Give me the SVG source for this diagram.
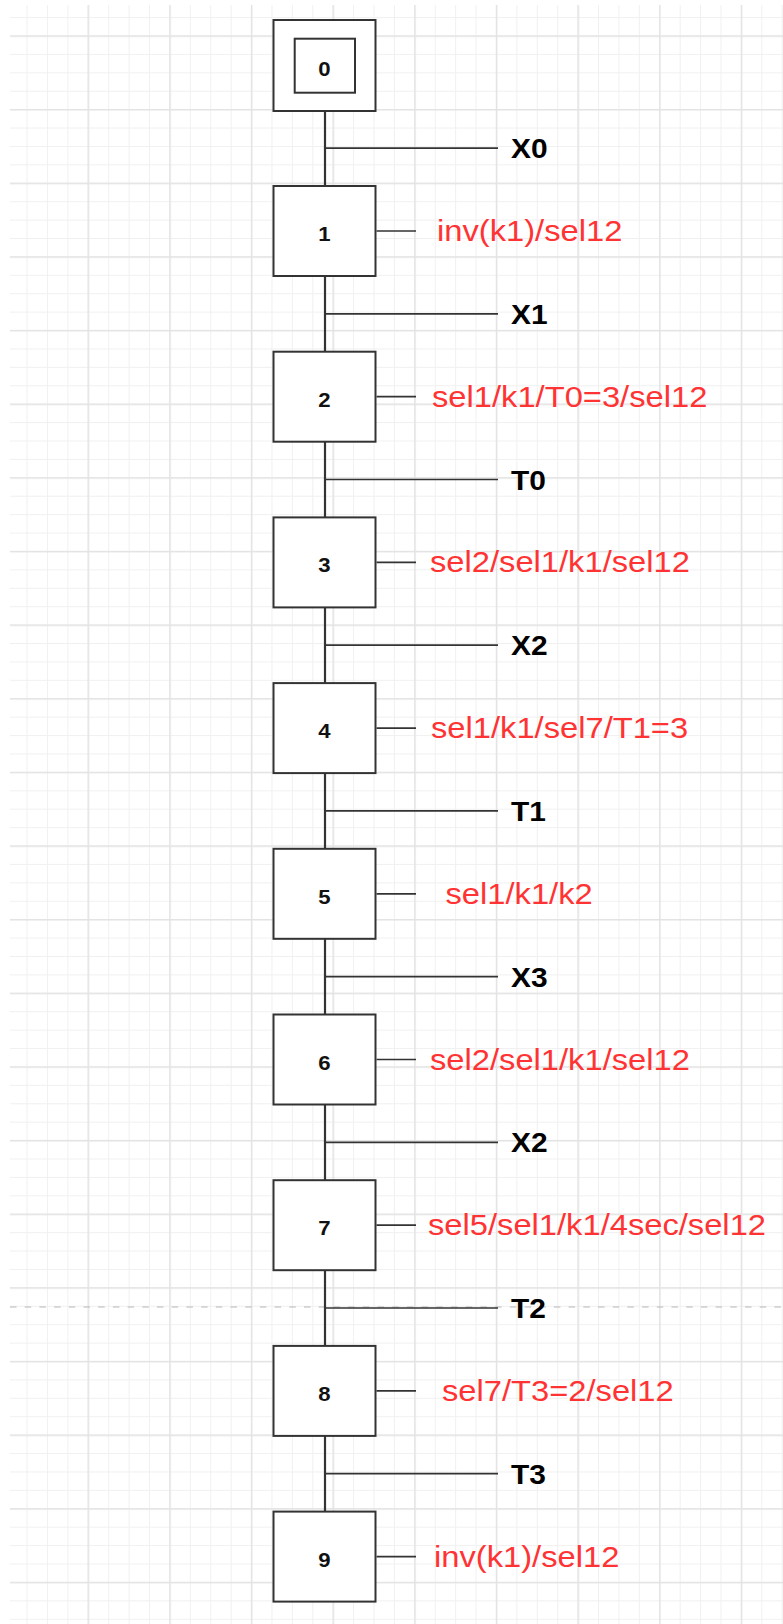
<svg xmlns="http://www.w3.org/2000/svg" width="783" height="1624" viewBox="0 0 783 1624">
<defs>
<pattern id="minor" patternUnits="userSpaceOnUse" x="6.15" y="-1.32" width="20.41" height="18.41">
<rect x="0" y="0" width="1" height="18.41" fill="#f0f0f0"/>
<rect x="0" y="0" width="20.41" height="1" fill="#f0f0f0"/>
</pattern>
<pattern id="major" patternUnits="userSpaceOnUse" x="5.9" y="-38.3" width="81.65" height="73.64">
<rect x="0" y="0" width="1.5" height="73.64" fill="#e3e3e3"/>
<rect x="0" y="0" width="81.65" height="1.5" fill="#e3e3e3"/>
</pattern>
<style>
.box{fill:#fff;stroke:#333;stroke-width:2}
.ln{stroke:#333;stroke-width:2.2;fill:none}
.hl{stroke:#333;stroke-width:1.7;fill:none}
.num{font-family:"Liberation Sans",Arial,sans-serif;font-weight:bold;font-size:20px;fill:#111;text-anchor:middle}
.lbl{font-family:"Liberation Sans",Arial,sans-serif;font-weight:bold;font-size:27px;fill:#000}
.act{font-family:"Liberation Sans",Arial,sans-serif;font-size:29.5px;fill:#ff3333}
</style>
</defs>
<rect x="0" y="0" width="783" height="1624" fill="#fff"/>
<rect x="10" y="5" width="773" height="1619" fill="url(#minor)"/>
<rect x="10" y="5" width="773" height="1619" fill="url(#major)"/>
<line x1="10" y1="1307" x2="783" y2="1307" stroke="#b8b8b8" stroke-width="1.2" stroke-dasharray="6.5 8.2"/>

<g id="connectors">
<line class="ln" x1="325" y1="111" x2="325" y2="186"/>
<line class="ln" x1="325" y1="276" x2="325" y2="351.7"/>
<line class="ln" x1="325" y1="441.7" x2="325" y2="517.4"/>
<line class="ln" x1="325" y1="607.4" x2="325" y2="683.1"/>
<line class="ln" x1="325" y1="773.1" x2="325" y2="848.8"/>
<line class="ln" x1="325" y1="938.8" x2="325" y2="1014.5"/>
<line class="ln" x1="325" y1="1104.5" x2="325" y2="1180.2"/>
<line class="ln" x1="325" y1="1270.2" x2="325" y2="1345.9"/>
<line class="ln" x1="325" y1="1435.9" x2="325" y2="1511.6"/>
<line class="hl" x1="325" y1="148.1" x2="498" y2="148.1"/>
<line class="hl" x1="325" y1="313.8" x2="498" y2="313.8"/>
<line class="hl" x1="325" y1="479.5" x2="498" y2="479.5"/>
<line class="hl" x1="325" y1="645.2" x2="498" y2="645.2"/>
<line class="hl" x1="325" y1="810.9" x2="498" y2="810.9"/>
<line class="hl" x1="325" y1="976.6" x2="498" y2="976.6"/>
<line class="hl" x1="325" y1="1142.3" x2="498" y2="1142.3"/>
<line class="hl" x1="325" y1="1308" x2="498" y2="1308"/>
<line class="hl" x1="325" y1="1473.7" x2="498" y2="1473.7"/>
<line class="hl" x1="376.5" y1="231" x2="416" y2="231"/>
<line class="hl" x1="376.5" y1="396.7" x2="416" y2="396.7"/>
<line class="hl" x1="376.5" y1="562.4" x2="416" y2="562.4"/>
<line class="hl" x1="376.5" y1="728.1" x2="416" y2="728.1"/>
<line class="hl" x1="376.5" y1="893.8" x2="416" y2="893.8"/>
<line class="hl" x1="376.5" y1="1059.5" x2="416" y2="1059.5"/>
<line class="hl" x1="376.5" y1="1225.2" x2="416" y2="1225.2"/>
<line class="hl" x1="376.5" y1="1390.9" x2="416" y2="1390.9"/>
<line class="hl" x1="376.5" y1="1556.6" x2="416" y2="1556.6"/>
</g>

<g id="transitions">
<text class="lbl" transform="translate(511,158.1) scale(1.109,1)">X0</text>
<text class="lbl" transform="translate(511,323.8) scale(1.109,1)">X1</text>
<text class="lbl" transform="translate(511,489.5) scale(1.109,1)">T0</text>
<text class="lbl" transform="translate(511,655.2) scale(1.109,1)">X2</text>
<text class="lbl" transform="translate(511,820.9) scale(1.109,1)">T1</text>
<text class="lbl" transform="translate(511,986.6) scale(1.109,1)">X3</text>
<text class="lbl" transform="translate(511,1152.3) scale(1.109,1)">X2</text>
<text class="lbl" transform="translate(511,1318) scale(1.109,1)">T2</text>
<text class="lbl" transform="translate(511,1483.7) scale(1.109,1)">T3</text>
</g>

<g id="node0">
<rect class="box" x="273.5" y="20" width="102" height="91"/>
<rect class="box" x="294.7" y="38.7" width="60.3" height="54"/>
<text class="num" transform="translate(324.5,76) scale(1.109,1)">0</text>
</g>
<g id="node1">
<rect class="box" x="273.5" y="186" width="102" height="90"/>
<text class="num" transform="translate(324.5,241) scale(1.109,1)">1</text>
<text class="act" transform="translate(437,241) scale(1.109,1)">inv(k1)/sel12</text>
</g>
<g id="node2">
<rect class="box" x="273.5" y="351.7" width="102" height="90"/>
<text class="num" transform="translate(324.5,406.7) scale(1.109,1)">2</text>
<text class="act" transform="translate(432,406.7) scale(1.109,1)">sel1/k1/T0=3/sel12</text>
</g>
<g id="node3">
<rect class="box" x="273.5" y="517.4" width="102" height="90"/>
<text class="num" transform="translate(324.5,572.4) scale(1.109,1)">3</text>
<text class="act" transform="translate(430,572.4) scale(1.109,1)">sel2/sel1/k1/sel12</text>
</g>
<g id="node4">
<rect class="box" x="273.5" y="683.1" width="102" height="90"/>
<text class="num" transform="translate(324.5,738.1) scale(1.109,1)">4</text>
<text class="act" transform="translate(431,738.1) scale(1.109,1)">sel1/k1/sel7/T1=3</text>
</g>
<g id="node5">
<rect class="box" x="273.5" y="848.8" width="102" height="90"/>
<text class="num" transform="translate(324.5,903.8) scale(1.109,1)">5</text>
<text class="act" transform="translate(445.5,903.8) scale(1.109,1)">sel1/k1/k2</text>
</g>
<g id="node6">
<rect class="box" x="273.5" y="1014.5" width="102" height="90"/>
<text class="num" transform="translate(324.5,1069.5) scale(1.109,1)">6</text>
<text class="act" transform="translate(430,1069.5) scale(1.109,1)">sel2/sel1/k1/sel12</text>
</g>
<g id="node7">
<rect class="box" x="273.5" y="1180.2" width="102" height="90"/>
<text class="num" transform="translate(324.5,1235.2) scale(1.109,1)">7</text>
<text class="act" transform="translate(428,1235.2) scale(1.109,1)">sel5/sel1/k1/4sec/sel12</text>
</g>
<g id="node8">
<rect class="box" x="273.5" y="1345.9" width="102" height="90"/>
<text class="num" transform="translate(324.5,1400.9) scale(1.109,1)">8</text>
<text class="act" transform="translate(442,1400.9) scale(1.109,1)">sel7/T3=2/sel12</text>
</g>
<g id="node9">
<rect class="box" x="273.5" y="1511.6" width="102" height="90"/>
<text class="num" transform="translate(324.5,1566.6) scale(1.109,1)">9</text>
<text class="act" transform="translate(434,1566.6) scale(1.109,1)">inv(k1)/sel12</text>
</g>
</svg>
